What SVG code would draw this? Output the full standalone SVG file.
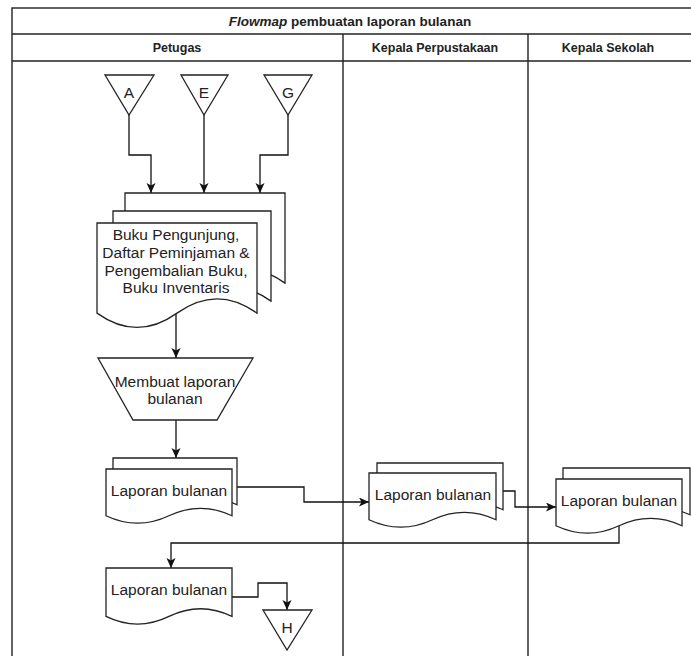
<svg xmlns="http://www.w3.org/2000/svg" width="691" height="656" viewBox="0 0 691 656">
<style>
.frame{fill:none;stroke:#222;stroke-width:1.4}
.shape{fill:#fff;stroke:#222;stroke-width:1.3}
.edge{fill:none;stroke:#111;stroke-width:1.3}
text{font-family:"Liberation Sans",Arial,sans-serif;fill:#222}
.lbl{font-size:15.5px;text-anchor:middle}
.hdr{font-size:12.5px;font-weight:bold;text-anchor:middle}
.ttl{font-size:13.5px;font-weight:bold;text-anchor:middle}
</style>
<defs>
<marker id="arr" markerUnits="userSpaceOnUse" markerWidth="11" markerHeight="10" refX="10" refY="4.5" orient="auto">
<path d="M0,0 L10,4.5 L0,9 L2.5,4.5 Z" fill="#111"/>
</marker>
</defs>
<rect width="691" height="656" fill="#fff"/>
<g id="pool">
<rect class="frame" x="12" y="8" width="690" height="660"/>
<line class="frame" x1="12" y1="34" x2="691" y2="34"/>
<line class="frame" x1="12" y1="61" x2="691" y2="61"/>
<line class="frame" x1="343" y1="34" x2="343" y2="660"/>
<line class="frame" x1="528" y1="34" x2="528" y2="660"/>
<text class="ttl" x="350" y="26"><tspan font-style="italic">Flowmap</tspan> pembuatan laporan bulanan</text>
<text class="hdr" x="177" y="52">Petugas</text>
<text class="hdr" x="435" y="52">Kepala Perpustakaan</text>
<text class="hdr" x="608" y="52">Kepala Sekolah</text>
</g>
<g id="connectors">
<path class="edge" d="M129,115 V155 H151 V193" marker-end="url(#arr)"/>
<path class="edge" d="M204,115 V193" marker-end="url(#arr)"/>
<path class="edge" d="M288,115 V155 H260 V193" marker-end="url(#arr)"/>
<path class="edge" d="M176,313 V358" marker-end="url(#arr)"/>
<path class="edge" d="M176,420 V458" marker-end="url(#arr)"/>
<path class="edge" d="M237,487 H304 V502 H369" marker-end="url(#arr)"/>
<path class="edge" d="M503,491 H515 V507 H556" marker-end="url(#arr)"/>
<path class="edge" d="M619,526 V543 H171 V568" marker-end="url(#arr)"/>
<path class="edge" d="M232,597 H258 V583 H287 V610" marker-end="url(#arr)"/>
</g>
<g id="conn-A">
<polygon class="shape" points="105,75 154,75 129,115"/>
<text class="lbl" x="129" y="98">A</text>
</g>
<g id="conn-E">
<polygon class="shape" points="181,75 228,75 204,115"/>
<text class="lbl" x="204" y="98">E</text>
</g>
<g id="conn-G">
<polygon class="shape" points="264,75 312,75 288,115"/>
<text class="lbl" x="288" y="98">G</text>
</g>
<g id="doc-buku">
<path class="shape" d="M125,193 H285 V283.1 Q245,254.5 205,283.1 Q165,311.7 125,283.1 Z"/>
<path class="shape" d="M113,211 H271 V301.1 Q231.5,272.5 192,301.1 Q152.5,329.7 113,301.1 Z"/>
<path class="shape" d="M97,223 H257 V313.1 Q217,284.5 177,313.1 Q137,341.7 97,313.1 Z"/>
<text class="lbl" x="176" y="240">Buku Pengunjung,</text>
<text class="lbl" x="176" y="258">Daftar Peminjaman &amp;</text>
<text class="lbl" x="176" y="276">Pengembalian Buku,</text>
<text class="lbl" x="176" y="293">Buku Inventaris</text>
</g>
<g id="manual-membuat">
<polygon class="shape" points="98,358 253,358 217,420 133,420"/>
<text class="lbl" x="175" y="387">Membuat laporan</text>
<text class="lbl" x="175" y="404">bulanan</text>
</g>
<g id="doc-laporan-petugas">
<path class="shape" d="M113,458 H237 V504.75 Q206,489.9 175,504.75 Q144,519.6 113,504.75 Z"/>
<path class="shape" d="M106,469 H232 V515.75 Q200.5,500.9 169,515.75 Q137.5,530.6 106,515.75 Z"/>
<text class="lbl" x="169" y="496">Laporan bulanan</text>
</g>
<g id="doc-laporan-kp">
<path class="shape" d="M377,463 H503 V509.75 Q471.5,494.9 440,509.75 Q408.5,524.6 377,509.75 Z"/>
<path class="shape" d="M369,473 H496 V519.75 Q464.25,504.9 432.5,519.75 Q400.75,534.6 369,519.75 Z"/>
<text class="lbl" x="433" y="500">Laporan bulanan</text>
</g>
<g id="doc-laporan-ks">
<path class="shape" d="M563,468 H690 V514.75 Q658.25,499.9 626.5,514.75 Q594.75,529.6 563,514.75 Z"/>
<path class="shape" d="M556,479 H682 V525.75 Q650.5,510.9 619,525.75 Q587.5,540.6 556,525.75 Z"/>
<text class="lbl" x="619" y="506">Laporan bulanan</text>
</g>
<g id="doc-laporan-final">
<path class="shape" d="M106,568 H232 V616.45 Q200.5,601.06 169,616.45 Q137.5,631.84 106,616.45 Z"/>
<text class="lbl" x="169" y="595">Laporan bulanan</text>
</g>
<g id="conn-H">
<polygon class="shape" points="263,610 312,610 287,650"/>
<text class="lbl" x="287" y="633">H</text>
</g>
</svg>
